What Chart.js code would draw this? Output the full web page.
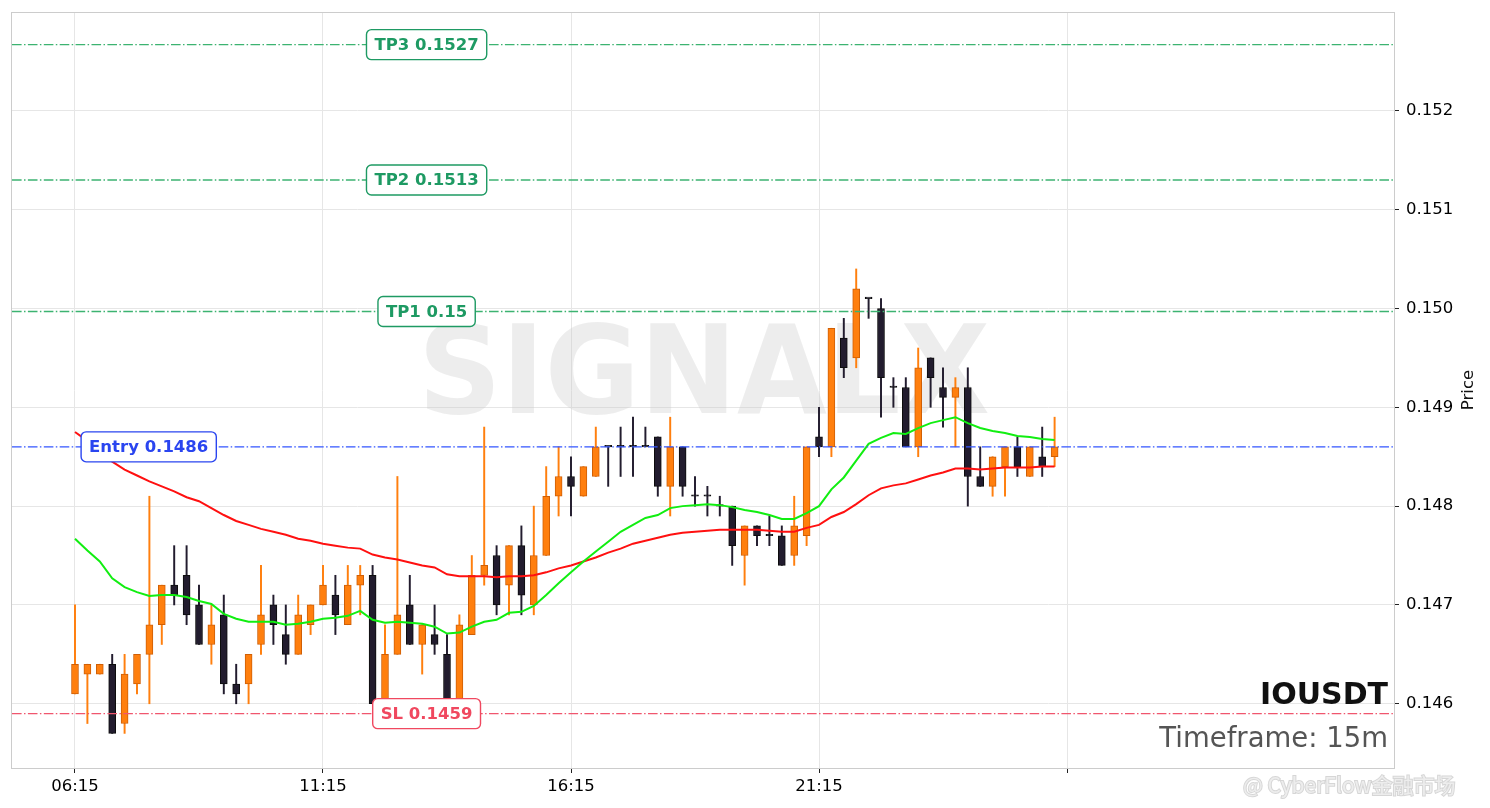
<!DOCTYPE html>
<html>
<head>
<meta charset="utf-8">
<script src="https://cdn.jsdelivr.net/npm/chart.js@4.4.1/dist/chart.umd.min.js"></script>
<style>
  html, body { margin: 0; padding: 0; background: #fff; }
</style>
</head>
<body>
<canvas id="chart" width="1490" height="808"></canvas>
<script>
// candles, 15m, index 0 = 06:15
const opens  = [0.1461,0.1463,0.1463,0.1464,0.1458,0.1462,0.1465,0.1468,0.1472,0.1473,
                0.1470,0.1466,0.1469,0.1462,0.1462,0.1466,0.1470,0.1467,0.1465,0.1468,
                0.1470,0.1471,0.1468,0.1472,0.1473,0.1460,0.1465,0.1470,0.1466,0.1467,
                0.1465,0.1460,0.1467,0.1473,0.1475,0.1472,0.1476,0.1470,0.1475,0.1481,
                0.1483,0.1481,0.1483,0.1486,0.1486,0.1486,0.1486,0.1487,0.1482,0.1486,
                0.1481,0.1481,0.1480,0.1480,0.1475,0.1478,0.1477,0.1477,0.1475,0.1477,
                0.1487,0.1486,0.1497,0.1495,0.1501,0.1500,0.1492,0.1492,0.1486,0.1495,
                0.1492,0.1491,0.1492,0.1483,0.1482,0.1484,0.1486,0.1483,0.1485,0.1485];
const highs  = [0.1470,0.1464,0.1464,0.1465,0.1465,0.1465,0.1481,0.1472,0.1476,0.1476,
                0.1472,0.1470,0.1471,0.1464,0.1465,0.1474,0.1471,0.1470,0.1471,0.1470,
                0.1474,0.1473,0.1474,0.1474,0.1474,0.1468,0.1483,0.1473,0.1468,0.1470,
                0.1467,0.1469,0.1475,0.1488,0.1476,0.1476,0.1478,0.1480,0.1484,0.1486,
                0.1485,0.1484,0.1488,0.1486,0.1488,0.1489,0.1488,0.1487,0.1489,0.1486,
                0.1483,0.1482,0.1481,0.1480,0.1478,0.1478,0.1479,0.1478,0.1481,0.1486,
                0.1490,0.1498,0.1499,0.1504,0.1501,0.1501,0.1493,0.1493,0.1496,0.1495,
                0.1494,0.1493,0.1494,0.1486,0.1485,0.1486,0.1487,0.1486,0.1488,0.1489];
const lows   = [0.1461,0.1458,0.1463,0.1457,0.1457,0.1461,0.1460,0.1466,0.1470,0.1468,
                0.1466,0.1464,0.1461,0.1460,0.1460,0.1465,0.1466,0.1464,0.1465,0.1467,
                0.1470,0.1467,0.1468,0.1469,0.1460,0.14595,0.1465,0.1466,0.1463,0.1465,
                0.1460,0.14595,0.1467,0.1472,0.1469,0.1469,0.1469,0.1469,0.1475,0.1479,
                0.1479,0.1481,0.1483,0.1482,0.1483,0.1483,0.1486,0.1481,0.1479,0.1481,
                0.1480,0.1479,0.1479,0.1474,0.1472,0.1476,0.1476,0.1474,0.1474,0.1476,
                0.1485,0.1485,0.1493,0.1494,0.1499,0.1489,0.1490,0.1486,0.1485,0.1490,
                0.1488,0.1486,0.1480,0.1482,0.1481,0.1481,0.1483,0.1483,0.1483,0.1484];
const closes = [0.1464,0.1464,0.1464,0.1457,0.1463,0.1465,0.1468,0.1472,0.1471,0.1469,
                0.1466,0.1468,0.1462,0.1461,0.1465,0.1469,0.1468,0.1465,0.1469,0.1470,
                0.1472,0.1469,0.1472,0.1473,0.1460,0.1465,0.1469,0.1466,0.1468,0.1466,
                0.1460,0.1468,0.1473,0.1474,0.1470,0.1476,0.1471,0.1475,0.1481,0.1483,
                0.1482,0.1484,0.1486,0.1486,0.1486,0.1486,0.1486,0.1482,0.1486,0.1482,
                0.1481,0.1481,0.1480,0.1476,0.1478,0.1477,0.1477,0.1474,0.1478,0.1486,
                0.1486,0.1498,0.1494,0.1502,0.1501,0.1493,0.1492,0.1486,0.1494,0.1493,
                0.1491,0.1492,0.1483,0.1482,0.1485,0.1486,0.1484,0.1486,0.1484,0.1486];

// moving averages as plotted (fast = green, slow = red)
const maFast = [0.14767,0.14755,0.14744,0.14727,0.14718,0.14713,0.14709,0.14710,0.14710,0.14708,
                0.14704,0.14701,0.14691,0.14686,0.14683,0.14683,0.14683,0.14680,0.14681,0.14683,
                0.14686,0.14687,0.14689,0.14694,0.14685,0.14682,0.14683,0.14682,0.14681,0.14678,
                0.14671,0.14672,0.14678,0.14683,0.14685,0.14692,0.14693,0.14699,0.14710,0.14722,
                0.14733,0.14744,0.14754,0.14764,0.14774,0.14781,0.14788,0.14791,0.14798,0.14800,
                0.14801,0.14802,0.14801,0.14799,0.14796,0.14794,0.14791,0.14787,0.14787,0.14793,
                0.14800,0.14817,0.14829,0.14846,0.14863,0.14869,0.14874,0.14873,0.14879,0.14884,
                0.14887,0.14890,0.14884,0.14879,0.14876,0.14874,0.14871,0.14870,0.14868,0.14867];
const maSlow = [0.14875,0.14866,0.14855,0.14845,0.14837,0.14831,0.14825,0.14820,0.14815,0.14809,
                0.14805,0.14798,0.14791,0.14785,0.14781,0.14777,0.14774,0.14771,0.14767,0.14765,
                0.14762,0.14760,0.14758,0.14757,0.14751,0.14748,0.14746,0.14743,0.14740,0.14738,
                0.14731,0.14729,0.14729,0.14729,0.14728,0.14729,0.14729,0.14730,0.14733,0.14737,
                0.14740,0.14744,0.14748,0.14753,0.14757,0.14762,0.14765,0.14768,0.14771,0.14773,
                0.14774,0.14775,0.14776,0.14776,0.14776,0.14776,0.14775,0.14774,0.14774,0.14778,
                0.14781,0.14789,0.14794,0.14802,0.14811,0.14818,0.14821,0.14823,0.14827,0.14831,
                0.14834,0.14838,0.14838,0.14837,0.14838,0.14839,0.14839,0.14839,0.14840,0.14840];

const xTickPos = [0, 20, 40, 60, 80];
const xTickLabels = ['06:15', '11:15', '16:15', '21:15', ''];
const yTicks = [0.146, 0.147, 0.148, 0.149, 0.150, 0.151, 0.152];

const tpNames = ['TP3', 'TP2', 'TP1'];
const tpValues = [0.15267, 0.1513, 0.14997];
const entryValue = 0.1486;
const slValue = 0.1459;
const symbol = 'IOUSDT';
const timeframe = '15m';

const FONT = "'DejaVu Sans', sans-serif";
const UP_FILL = '#ff7f0e', UP_EDGE = '#cf5f06';
const DN_FILL = '#221c2e', DN_EDGE = '#0d0d0d';

const idx = opens.map((_, i) => i);
const isUp = idx.map(i => closes[i] > opens[i]);

function roundRect(ctx, x, y, w, h, r) {
  ctx.beginPath();
  ctx.moveTo(x + r, y);
  ctx.lineTo(x + w - r, y);
  ctx.arcTo(x + w, y, x + w, y + r, r);
  ctx.lineTo(x + w, y + h - r);
  ctx.arcTo(x + w, y + h, x + w - r, y + h, r);
  ctx.lineTo(x + r, y + h);
  ctx.arcTo(x, y + h, x, y + h - r, r);
  ctx.lineTo(x, y + r);
  ctx.arcTo(x, y, x + r, y, r);
  ctx.closePath();
}

function drawTag(ctx, text, cx, cy, color, alignLeft) {
  ctx.font = 'bold 16.5px ' + FONT;
  const w = ctx.measureText(text).width + 16, h = 30;
  const x = alignLeft ? cx : cx - w / 2;
  roundRect(ctx, x, cy - h / 2, w, h, 5);
  ctx.fillStyle = '#ffffff';
  ctx.fill();
  ctx.lineWidth = 1.4;
  ctx.strokeStyle = color;
  ctx.setLineDash([]);
  ctx.stroke();
  ctx.fillStyle = color;
  ctx.textAlign = 'left';
  ctx.textBaseline = 'middle';
  ctx.fillText(text, x + 8, cy + 1);
}

const fmt = v => String(parseFloat(v.toPrecision(4)));

const whiteBg = {
  id: 'whiteBg',
  beforeDraw(chart) {
    const ctx = chart.ctx;
    ctx.save();
    ctx.fillStyle = '#fff';
    ctx.fillRect(0, 0, chart.width, chart.height);
    ctx.restore();
  }
};

const watermark = {
  id: 'watermark',
  beforeDatasetsDraw(chart) {
    const ctx = chart.ctx;
    ctx.save();
    ctx.font = 'bold 123px ' + FONT;
    const w = ctx.measureText('SIGNALX').width;
    ctx.translate(704, 381);
    ctx.scale(572 / w, 1);
    ctx.fillStyle = 'rgba(200,200,200,0.33)';
    ctx.textAlign = 'center';
    ctx.textBaseline = 'middle';
    ctx.fillText('SIGNALX', 0, 0);
    ctx.restore();
  }
};

const levels = {
  id: 'levels',
  afterDatasetsDraw(chart) {
    const { ctx, chartArea: a, scales: { y } } = chart;
    const tagX = a.left + 0.3 * (a.right - a.left);
    const lines = [];
    tpValues.forEach((v, k) => lines.push({ v, color: '#3cb371', text: tpNames[k] + ' ' + fmt(v), tc: '#1e9a63' }));
    lines.push({ v: entryValue, color: '#3355ff', text: 'Entry ' + fmt(entryValue), tc: '#2a45f0', left: true });
    lines.push({ v: slValue, color: '#f0566e', text: 'SL ' + fmt(slValue), tc: '#f0485f' });
    ctx.save();
    lines.forEach(l => {
      const py = y.getPixelForValue(l.v);
      ctx.beginPath();
      ctx.setLineDash([9.6, 2.4, 1.5, 2.4]);
      ctx.lineWidth = 1.4;
      ctx.strokeStyle = l.color;
      ctx.moveTo(a.left, py);
      ctx.lineTo(a.right, py);
      ctx.stroke();
    });
    lines.forEach(l => {
      const py = y.getPixelForValue(l.v);
      if (l.left) drawTag(ctx, l.text, a.left + 0.05 * (a.right - a.left), py, l.tc, true);
      else drawTag(ctx, l.text, tagX, py, l.tc, false);
    });
    ctx.restore();
  }
};

const decor = {
  id: 'decor',
  afterDraw(chart) {
    const { ctx, chartArea: a } = chart;
    ctx.save();
    ctx.setLineDash([]);
    ctx.strokeStyle = '#cccccc';
    ctx.lineWidth = 1;
    ctx.strokeRect(a.left - 0.5, a.top - 0.5, a.right - a.left + 1, a.bottom - a.top + 1);

    ctx.textAlign = 'right';
    ctx.textBaseline = 'alphabetic';
    ctx.fillStyle = '#111111';
    ctx.font = 'bold 30px ' + FONT;
    ctx.fillText(symbol, a.right - 6, 704);
    ctx.fillStyle = '#555555';
    ctx.font = '27.5px ' + FONT;
    ctx.fillText('Timeframe: ' + timeframe, a.right - 6, 747);

    // axis title
    ctx.translate(1469, 390);
    ctx.rotate(-Math.PI / 2);
    ctx.textAlign = 'center';
    ctx.textBaseline = 'middle';
    ctx.fillStyle = '#111';
    ctx.font = '16.5px ' + FONT;
    ctx.fillText('Price', 0, 0);
    ctx.restore();

    // repost mark, bottom right
    ctx.save();
    ctx.font = "21px 'Noto Sans CJK SC', " + FONT;
    ctx.textAlign = 'left';
    ctx.textBaseline = 'middle';
    ctx.lineWidth = 2;
    ctx.strokeStyle = 'rgba(120,120,120,0.3)';
    ctx.fillStyle = 'rgba(238,238,238,0.95)';
    ctx.strokeText('@ CyberFlow金融市场', 1243, 785);
    ctx.fillText('@ CyberFlow金融市场', 1243, 785);
    ctx.restore();
  }
};

new Chart(document.getElementById('chart'), {
  data: {
    datasets: [
      {
        type: 'line',
        label: 'fast',
        data: idx.map(i => ({ x: i, y: maFast[i] })),
        borderColor: '#11ee11',
        borderWidth: 2,
        pointRadius: 0,
        tension: 0,
        order: 0
      },
      {
        type: 'line',
        label: 'slow',
        data: idx.map(i => ({ x: i, y: maSlow[i] })),
        borderColor: '#ff1010',
        borderWidth: 2,
        pointRadius: 0,
        tension: 0,
        order: 1
      },
      {
        type: 'bar',
        label: 'body',
        data: idx.map(i => ({ x: i, y: [opens[i], closes[i]] })),
        backgroundColor: isUp.map(u => u ? UP_FILL : DN_FILL),
        borderColor: isUp.map(u => u ? UP_EDGE : DN_EDGE),
        borderWidth: 1,
        borderSkipped: false,
        barThickness: 7,
        minBarLength: 1.5,
        grouped: false,
        order: 2
      },
      {
        type: 'bar',
        label: 'wick',
        data: idx.map(i => ({ x: i, y: [lows[i], highs[i]] })),
        backgroundColor: isUp.map(u => u ? UP_FILL : DN_FILL),
        borderWidth: 0,
        barThickness: 1.3,
        grouped: false,
        order: 3
      }
    ]
  },
  options: {
    responsive: false,
    devicePixelRatio: 1,
    animation: false,
    layout: { padding: { left: 12, top: 13, right: 0, bottom: 0 } },
    plugins: {
      legend: { display: false },
      tooltip: { enabled: false }
    },
    scales: {
      x: {
        type: 'linear',
        offset: false,
        min: -5.08,
        max: 106.37,
        afterBuildTicks: s => { s.ticks = xTickPos.map(v => ({ value: v })); },
        afterFit: s => { s.height = 40; s.paddingLeft = 0; s.paddingRight = 0; },
        grid: { offset: false, color: '#e6e6e6', tickColor: '#222', tickLength: 5, lineWidth: 1 },
        border: { display: false },
        ticks: {
          autoSkip: false,
          maxRotation: 0,
          padding: 4,
          color: '#000',
          font: { family: FONT, size: 16.5 },
          callback: (v, i) => xTickLabels[i]
        }
      },
      y: {
        type: 'linear',
        position: 'right',
        min: 0.14535,
        max: 0.15299,
        afterBuildTicks: s => { s.ticks = yTicks.map(v => ({ value: v })); },
        afterFit: s => { s.width = 96; s.paddingTop = 0; s.paddingBottom = 0; },
        grid: { color: '#e6e6e6', tickColor: '#222', tickLength: 5, lineWidth: 1 },
        border: { display: false },
        ticks: {
          padding: 7,
          color: '#000',
          font: { family: FONT, size: 16.5 },
          callback: v => v.toFixed(3)
        }
      }
    }
  },
  plugins: [whiteBg, watermark, levels, decor]
});
</script>
</body>
</html>
